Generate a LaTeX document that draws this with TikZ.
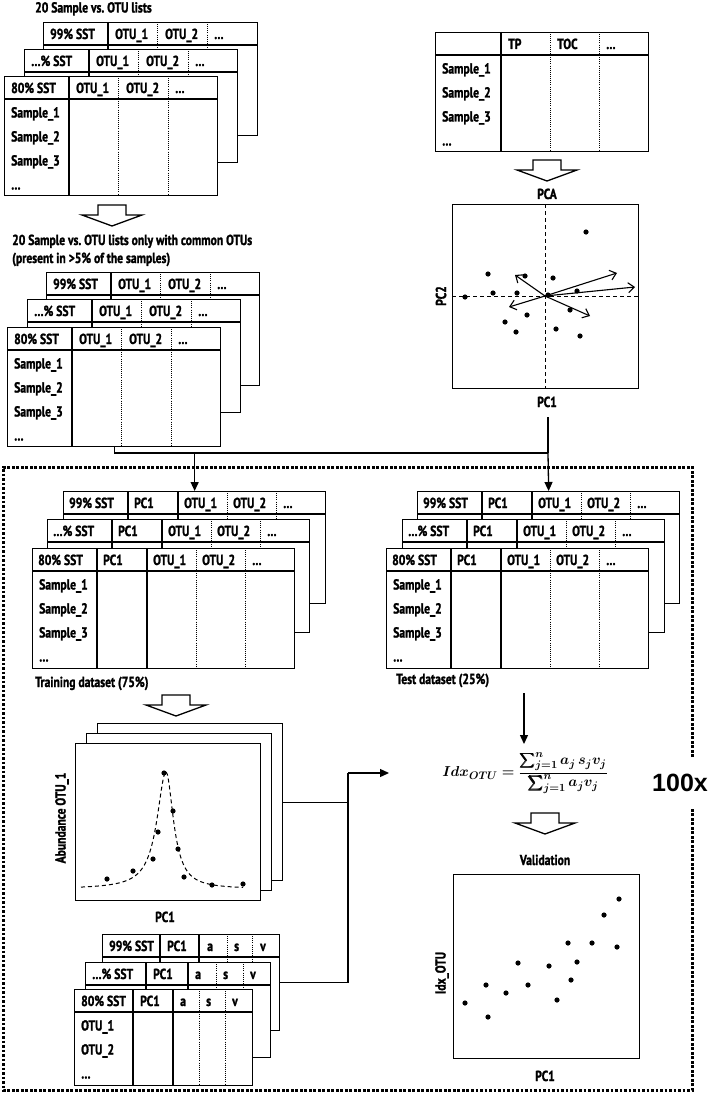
\documentclass[tikz,border=0pt]{standalone}
\usepackage{fontspec}
\usepackage{amsmath,bm}
\usetikzlibrary{arrows.meta}
\newfontfamily\cond{PT Sans}[FakeStretch=0.8, BoldFeatures={FakeBold=1.5}]
\newfontfamily\libsans{Liberation Sans}
\newcommand{\idxformula}{$\bm{Idx_{OTU}} \bm{=} \dfrac{\bm{\sum_{j=1}^{n} a_j\, s_j v_j}}{\bm{\sum_{j=1}^{n} a_j v_j}}$}
\tikzset{
  frame/.style={line width=1.3pt, draw=black},
  dotcol/.style={line width=0.9pt, dash pattern=on 0.9pt off 1.2pt},
  cell/.style={anchor=base west, inner sep=0pt, font=\cond\bfseries\fontsize{14.5}{16}\selectfont},
  lbl/.style={inner sep=0pt, font=\cond\bfseries\fontsize{14.5}{16}\selectfont},
  conn/.style={line width=1.3pt},
  tipa/.style={-{Triangle[length=9pt,width=8pt]}},
  vec/.style={line width=1.1pt, -{Straight Barb[length=6pt,width=10pt]}},
  axdash/.style={line width=1pt, dash pattern=on 4pt off 3pt},
  bigdots/.style={line width=3pt, dash pattern=on 2.6pt off 1.9pt},
  blk/.style={line width=1.3pt, fill=white, line join=miter},
  plotbox/.style={frame, fill=white, anchor=north west, inner sep=0pt, minimum width=185pt, minimum height=157pt},
}
% table layer: name, x, y, w, h, solid col offsets, dotted col offsets
\newcommand{\tlayer}[7]{%
  \node[frame, fill=white, anchor=north west, inner sep=0pt, minimum width=#4pt, minimum height=#5pt] (#1) at (#2,#3) {};
  \draw[line width=1.3pt] (#2,#3+23) -- ++(#4,0);
  \foreach \cc in {#6} {\draw[line width=1.3pt] (#2+\cc,#3) -- ++(0,#5);}
  \foreach \cc in {#7} {\draw[dotcol] (#2+\cc,#3) -- ++(0,#5);}
}
% header texts: name, x, y, list offset/text
\newcommand{\thead}[4]{%
  \foreach \ofs/\txt [count=\ii] in {#4} {\node[cell] (#1h\ii) at (#2+\ofs,#3+17) {\txt};}
}
% body rows: name, x, y, list of texts
\newcommand{\trows}[4]{%
  \foreach \txt [count=\ii] in {#4} {\node[cell] (#1r\ii) at (#2+7,#3+17.5+24*\ii) {\txt};}
}
\newcommand{\blockarr}[2]{%
  \draw[blk] (#1-14,#2) -- (#1+14,#2) -- (#1+14,#2+10) -- (#1+30,#2+10) -- (#1,#2+21) -- (#1-30,#2+10) -- (#1-14,#2+10) -- cycle;
}
\begin{document}
\begin{tikzpicture}[x=1pt,y=-1pt]
\useasboundingbox (0,0) rectangle (709,1094);

% ---------- Set 1 ----------
\node[lbl, anchor=base west] (t1) at (35,12.5) {20 Sample vs.\ OTU lists};
\tlayer{a1}{43}{22}{214}{113}{65}{114,164}
\thead{a1}{43}{22}{7/99\% SST,72/OTU\_1,122/OTU\_2,171/\ldots}
\tlayer{a2}{24}{49}{213}{113}{65}{114,164}
\thead{a2}{24}{49}{7/\ldots\% SST,72/OTU\_1,122/OTU\_2,171/\ldots}
\tlayer{a3}{4}{76}{213}{119}{65}{114,164}
\thead{a3}{4}{76}{7/80\% SST,72/OTU\_1,122/OTU\_2,171/\ldots}
\trows{a3}{4}{76}{Sample\_1,Sample\_2,Sample\_3,\ldots}

\blockarr{112}{205}

% ---------- Set 2 ----------
\node[lbl, anchor=base west] (t2a) at (12,245) {20 Sample vs.\ OTU lists only with common OTUs};
\node[lbl, anchor=base west] (t2b) at (12,263) {(present in >5\% of the samples)};
\tlayer{b1}{46}{272}{213}{113}{65}{114,164}
\thead{b1}{46}{272}{7/99\% SST,72/OTU\_1,122/OTU\_2,171/\ldots}
\tlayer{b2}{27}{299}{213}{113}{65}{114,164}
\thead{b2}{27}{299}{7/\ldots\% SST,72/OTU\_1,122/OTU\_2,171/\ldots}
\tlayer{b3}{7}{327}{213}{119}{65}{114,164}
\thead{b3}{7}{327}{7/80\% SST,72/OTU\_1,122/OTU\_2,171/\ldots}
\trows{b3}{7}{327}{Sample\_1,Sample\_2,Sample\_3,\ldots}

% ---------- TP table + PCA ----------
\tlayer{tp}{435}{32}{213}{119}{66}{115,164}
\thead{tp}{435}{32}{73/TP,122/TOC,171/\ldots}
\trows{tp}{435}{32}{Sample\_1,Sample\_2,Sample\_3,\ldots}
\blockarr{547}{160}
\node[lbl, anchor=base] (pcaT) at (547,199) {PCA};
\node[frame, anchor=north west, inner sep=0pt, minimum width=186pt, minimum height=184pt] (pca) at (452,204) {};
\draw[axdash] (545,204) -- (545,388);
\draw[axdash] (452,296) -- (638,296);
\foreach \p in {(586,232),(488,274),(525,276),(553,278),(493,293),(517,293),(465,297),(577,291),(548,295),(570,310),(527,315),(505,322),(516,332),(556,329),(580,336)}
  \fill \p circle (2.6);
\coordinate (org) at (545,296);
\draw[vec] (org) -- (617,273);
\draw[vec] (org) -- (635,287);
\draw[vec] (org) -- (515,275);
\draw[vec] (org) -- (509,307);
\draw[vec] (org) -- (590,316);
\node[lbl, rotate=90] (pc2) at (441,296) {PC2};
\node[lbl, anchor=base] (pc1a) at (547,407) {PC1};

% ---------- dotted repeat box ----------
\draw[bigdots] (692,757) -- (692,467) -- (3,467) -- (3,1090) -- (692,1090) -- (692,808);
\node[inner sep=0pt, font=\libsans\bfseries\fontsize{25}{25}\selectfont] (rep) at (680,783) {100x};

% ---------- Training tables ----------
\tlayer{tr1}{63}{491}{262}{112}{65,115}{164,213}
\thead{tr1}{63}{491}{6/99\% SST,71/PC1,121/OTU\_1,170/OTU\_2,220/\ldots}
\tlayer{tr2}{47}{519}{262}{113}{65,115}{164,213}
\thead{tr2}{47}{519}{6/\ldots\% SST,71/PC1,121/OTU\_1,170/OTU\_2,220/\ldots}
\tlayer{tr3}{32}{548}{262}{120}{65,115}{164,213}
\thead{tr3}{32}{548}{6/80\% SST,71/PC1,121/OTU\_1,170/OTU\_2,220/\ldots}
\trows{tr3}{32}{548}{Sample\_1,Sample\_2,Sample\_3,\ldots}
\node[lbl, anchor=base west] (trl) at (35,687) {Training dataset (75\%)};

% ---------- Test tables ----------
\tlayer{te1}{417}{491}{262}{112}{65,115}{164,213}
\thead{te1}{417}{491}{6/99\% SST,71/PC1,121/OTU\_1,170/OTU\_2,220/\ldots}
\tlayer{te2}{402}{519}{262}{113}{65,115}{164,213}
\thead{te2}{402}{519}{6/\ldots\% SST,71/PC1,121/OTU\_1,170/OTU\_2,220/\ldots}
\tlayer{te3}{386}{548}{262}{120}{65,115}{164,213}
\thead{te3}{386}{548}{6/80\% SST,71/PC1,121/OTU\_1,170/OTU\_2,220/\ldots}
\trows{te3}{386}{548}{Sample\_1,Sample\_2,Sample\_3,\ldots}
\node[lbl, anchor=base west] (tel) at (396,684) {Test dataset (25\%)};

% ---------- Response curves ----------
\blockarr{176}{695}
\node[plotbox] (gB) at (97,723) {};
\node[plotbox] (gM) at (86,733) {};
\node[plotbox] (gF) at (75,743) {};
\draw[axdash] plot[domain=81:166, samples=60, smooth] (\x, {889-117/(1+((\x-166)/11)^2)});
\draw[axdash] plot[domain=166:243, samples=60, smooth] (\x, {889-117/(1+((\x-166)/9)^2)});
\foreach \p in {(164,773),(173,811),(158,832),(178,849),(153,859),(133,871),(107,879),(184,877),(212,885),(243,884)}
  \fill \p circle (2.6);
\node[lbl, rotate=90] (abl) at (62,818) {Abundance OTU\_1};
\node[lbl, anchor=base] (gpc1) at (165,922) {PC1};

% ---------- a s v tables ----------
\tlayer{sm1}{102}{934}{177}{96}{58,97}{125,150}
\thead{sm1}{102}{934}{7/99\% SST,65/PC1,105/a,132/s,158/v}
\tlayer{sm2}{85}{962}{185}{95}{61,103}{131,158}
\thead{sm2}{85}{962}{7/\ldots\% SST,68/PC1,110/a,138/s,165/v}
\tlayer{sm3}{74}{989}{178}{96}{59,99}{125,151}
\thead{sm3}{74}{989}{7/80\% SST,66/PC1,106/a,132/s,158/v}
\trows{sm3}{74}{989}{OTU\_1,OTU\_2,\ldots}

% ---------- Index formula ----------
\node[inner sep=0pt, font=\fontsize{15}{18}\selectfont] (idx) at (525,773) {\idxformula};

% ---------- Validation ----------
\blockarr{545}{813}
\node[lbl, anchor=base] (valT) at (545,865) {Validation};
\node[frame, anchor=north west, inner sep=0pt, minimum width=186pt, minimum height=184pt] (val) at (453,874) {};
\foreach \p in {(619,899),(604,915),(568,943),(592,943),(617,947),(518,963),(549,966),(577,962),(486,985),(528,985),(571,980),(506,993),(465,1003),(557,1000),(488,1017)}
  \fill \p circle (2.6);
\node[lbl, rotate=90] (idxl) at (442,973) {Idx\_OTU};
\node[lbl, anchor=base] (vpc1) at (545,1081) {PC1};

% ---------- Connectors ----------
\coordinate (hj) at (548,453);
\coordinate (pcaout) at (548,417);
\draw[conn] (b3.south) |- (hj);
\draw[conn] (pcaout) -- (hj);
\draw[conn, tipa] (tr1.north |- hj) -- (tr1.north);
\draw[conn, tipa] (hj) -- (te1.north);
\coordinate (teout) at (524,693);
\coordinate (idxtop) at (524,744);
\draw[conn, tipa] (teout) -- (idxtop);
\coordinate (vj) at (348,773);
\coordinate (idxin) at (389,773);
\draw[conn] (gB.east) -- (gB.east -| vj);
\draw[conn] (sm1.east) -| (vj);
\draw[conn, tipa] (vj) -- (idxin);
\end{tikzpicture}
\end{document}
